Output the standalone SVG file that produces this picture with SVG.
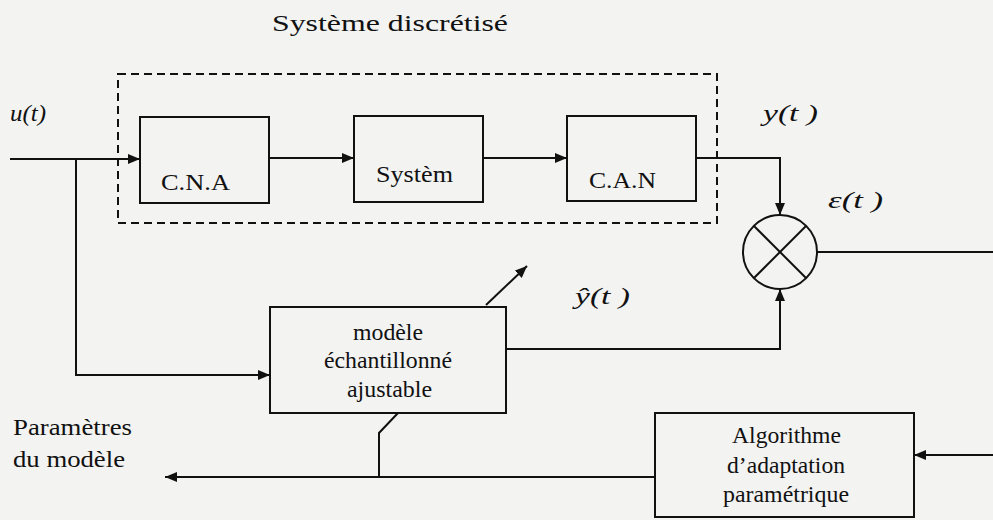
<svg xmlns="http://www.w3.org/2000/svg" width="993" height="520" viewBox="0 0 993 520">
<defs>
<marker id="ah" viewBox="0 0 12 10" refX="12" refY="5" markerWidth="12" markerHeight="10" markerUnits="userSpaceOnUse" orient="auto">
<path d="M0,0 L12,5 L0,10 Z" fill="#111"/>
</marker>
</defs>
<style>
.bx{fill:none;stroke:#111;stroke-width:2}
.ln{fill:none;stroke:#111;stroke-width:2}
text{font-family:"Liberation Serif","Times New Roman",serif;fill:#111;font-size:23px}
.it{font-style:italic}
</style>
<rect x="0" y="0" width="993" height="520" fill="#f3f3f1"/>
<text x="272" y="31" font-size="28" textLength="236" lengthAdjust="spacingAndGlyphs">Système discrétisé</text>
<g id="dashed-system">
<rect x="118" y="74" width="599" height="149" fill="none" stroke="#111" stroke-width="2" stroke-dasharray="8,5"/>
</g>
<g id="cna">
<rect class="bx" x="140" y="117" width="129" height="86"/>
<text x="161" y="190" textLength="69" lengthAdjust="spacingAndGlyphs">C.N.A</text>
</g>
<g id="systeme">
<rect class="bx" x="354" y="116" width="129" height="86"/>
<text x="376" y="182" textLength="77" lengthAdjust="spacingAndGlyphs">Systèm</text>
</g>
<g id="can">
<rect class="bx" x="567" y="116" width="129" height="85"/>
<text x="589" y="188" textLength="67" lengthAdjust="spacingAndGlyphs">C.A.N</text>
</g>
<g id="comparateur">
<circle cx="780" cy="252" r="37" fill="none" stroke="#111" stroke-width="2"/>
<line class="ln" x1="754" y1="226" x2="806" y2="278"/>
<line class="ln" x1="806" y1="226" x2="754" y2="278"/>
</g>
<g id="modele">
<rect class="bx" x="270" y="307" width="236" height="106"/>
<text x="353" y="340" textLength="70" lengthAdjust="spacingAndGlyphs">modèle</text>
<text x="324" y="368" textLength="128" lengthAdjust="spacingAndGlyphs">échantillonné</text>
<text x="347" y="397" textLength="85" lengthAdjust="spacingAndGlyphs">ajustable</text>
</g>
<g id="algorithme">
<rect class="bx" x="655" y="413" width="259" height="104"/>
<text x="732" y="443" textLength="109" lengthAdjust="spacingAndGlyphs">Algorithme</text>
<text x="727" y="473" textLength="118" lengthAdjust="spacingAndGlyphs">d’adaptation</text>
<text x="723" y="502" textLength="126" lengthAdjust="spacingAndGlyphs">paramétrique</text>
</g>
<g id="labels">
<text class="it" x="10" y="121" textLength="36" lengthAdjust="spacingAndGlyphs">u(t)</text>
<text class="it" x="763" y="121" font-size="25" textLength="55" lengthAdjust="spacingAndGlyphs">y(t )</text>
<text class="it" x="828" y="208" font-size="25" textLength="55" lengthAdjust="spacingAndGlyphs">ε(t )</text>
<text class="it" x="575" y="304" font-size="25" textLength="55" lengthAdjust="spacingAndGlyphs">ŷ(t )</text>
<text x="13" y="435" textLength="119" lengthAdjust="spacingAndGlyphs">Paramètres</text>
<text x="13" y="467" textLength="112" lengthAdjust="spacingAndGlyphs">du modèle</text>
</g>
<g id="connectors">
<line class="ln" x1="10" y1="159" x2="140" y2="159" marker-end="url(#ah)"/>
<polyline class="ln" points="76,159 76,375 270,375" marker-end="url(#ah)"/>
<line class="ln" x1="269" y1="158" x2="354" y2="158" marker-end="url(#ah)"/>
<line class="ln" x1="483" y1="158" x2="567" y2="158" marker-end="url(#ah)"/>
<polyline class="ln" points="696,158 780,158 780,215" marker-end="url(#ah)"/>
<line class="ln" x1="817" y1="252" x2="993" y2="252"/>
<polyline class="ln" points="506,349 780,349 780,289" marker-end="url(#ah)"/>
<line class="ln" x1="486" y1="305" x2="527" y2="266" marker-end="url(#ah)"/>
<line class="ln" x1="993" y1="455" x2="914" y2="455" marker-end="url(#ah)"/>
<line class="ln" x1="655" y1="477" x2="165" y2="477" marker-end="url(#ah)"/>
<polyline class="ln" points="398,413 379,433 379,477"/>
</g>
</svg>
